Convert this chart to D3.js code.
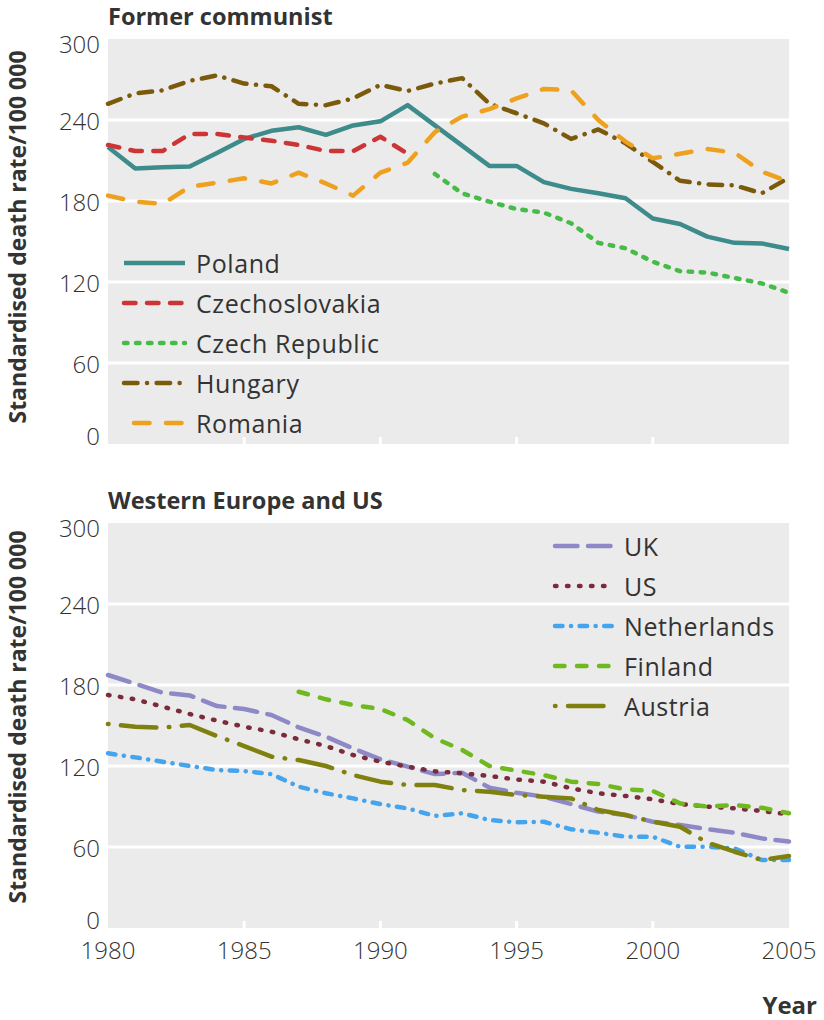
<!DOCTYPE html>
<html><head><meta charset="utf-8">
<script src="https://cdn.jsdelivr.net/npm/d3@7"></script>
<style>body{margin:0;background:#fff}svg{display:block}text{font-family:"Open Sans",sans-serif;fill:#333}</style>
</head><body><svg id="c" width="824" height="1020"></svg>
<script>
const years = d3.range(1980, 2006);
const yTicks = [0, 60, 120, 180, 240, 300];
const xTicks = [1980, 1985, 1990, 1995, 2000, 2005];

const poland = [220,204,205,205.5,215.5,226,232,234.6,229,236,239,251,236,221,206,206,194,189,185.7,182,167,163,153.6,149,148.6,144.5];
const czechoslovakia = [221.5,217,217,229.6,229.6,227,224.7,221.5,217,217,227.6,215];
const czechYears = d3.range(1992, 2006);
const czechRep = [200,185.7,179.5,174,171.4,163.5,149,145,135,128,127,123,119,112];
const hungary = [252,259.7,262,269,273,267,265,252,251,256,266,261.5,267,271,252,245,237.5,226,233,222.7,209,195,192.3,191.6,185.7,197.3];
const romania = [184,179.5,177.8,190.6,193.6,196.8,193,201,193,184,201,208.4,231,242.5,248,256,263,262,240,224,211.6,215,218.5,215.8,201.7,194.3];

const uk = [187.4,181,174.3,172.3,164.4,162.2,157.8,148.6,141.7,133,125,119.5,114,115,104,100.2,97.3,91.8,86.2,83.7,78.7,76.3,73.3,70.6,66.4,64];
const us = [172.6,169.4,164,158.5,153.6,149.1,145.4,139.8,134.8,128.1,123.2,119.5,116,114.6,112.6,110,108.4,103.5,99.8,97.8,95.3,91.8,89.9,88.6,86.7,84.2];
const netherlands = [129.4,126.4,123.2,120,117,116.3,114,104.7,99.8,96,91.8,88.6,83,85,80,78.3,78.7,73.1,70.6,67.6,67.6,60.2,60.2,59,50.4,50.4];
const finlandYears = d3.range(1987, 2006);
const finland = [175,169.4,165.2,162.2,154,140.5,131.9,120,116.5,113.3,108.4,106.7,102.7,101.5,92.3,89.9,91.1,89.1,85];
const austria = [151.1,149.1,148.4,150.4,142.2,134.8,126.9,124.4,120,113.3,108.4,105.9,105.9,102.2,101,98.5,97.3,96,87.4,83.7,78.7,75,63.2,56.5,50.4,53.3];

const W = 4.5;
function da(arr){ // visual pattern -> round-cap dasharray
  return arr.map((v,i)=> i%2===0 ? Math.max(0.1, v-W) : v+W).join(",");
}
const topSeries = [
  {name:"Poland", yrs:years, vals:poland, color:"#3e8b8b", dash:null},
  {name:"Czechoslovakia", yrs:years.slice(0,12), vals:czechoslovakia, color:"#cc3535", dash:da([16,7])},
  {name:"Czech Republic", yrs:czechYears, vals:czechRep, color:"#46bb48", dash:da([8,4])},
  {name:"Hungary", yrs:years, vals:hungary, color:"#7b5a0c", dash:da([18,5,4,5])},
  {name:"Romania", yrs:years, vals:romania, color:"#eea11e", dash:da([20,12])}
];
const botSeries = [
  {name:"UK", yrs:years, vals:uk, color:"#8d89c7", dash:da([27,6])},
  {name:"US", yrs:years, vals:us, color:"#7b2c3c", dash:da([6,6])},
  {name:"Netherlands", yrs:years, vals:netherlands, color:"#45a4ee", dash:da([12,4,4,4])},
  {name:"Finland", yrs:finlandYears, vals:finland, color:"#6fb81e", dash:da([14,8])},
  {name:"Austria", yrs:years, vals:austria, color:"#80800f", dash:da([5,8,40,8])}
];

const svg = d3.select("#c");
const x = d3.scaleLinear().domain([1980, 2005]).range([108, 789]);

function panel(top, bottom, title, series, leg, titleCenter){
  const y = d3.scaleLinear().domain([0, 300]).range([bottom, top]);
  const g = svg.append("g");
  g.append("rect").attr("x", x.range()[0]).attr("y", top).attr("width", x.range()[1]-x.range()[0]).attr("height", bottom-top).attr("fill", "#ebebeb");
  g.selectAll(".grid").data(yTicks.filter(t=>t>0 && t<300)).join("line")
    .attr("x1", x.range()[0]).attr("x2", x.range()[1]).attr("y1", d=>y(d)).attr("y2", d=>y(d))
    .attr("stroke", "#fff").attr("stroke-width", 3);
  g.selectAll(".xt").data(xTicks.slice(1,-1)).join("line")
    .attr("x1", d=>x(d)).attr("x2", d=>x(d)).attr("y1", bottom).attr("y2", bottom-7)
    .attr("stroke", "#fff").attr("stroke-width", 3);
  g.selectAll(".yl").data(yTicks).join("text")
    .attr("x", 100).attr("y", d=>Math.min(bottom-9, Math.max(top+4, y(d))))
    .attr("text-anchor", "end").attr("dominant-baseline", "central")
    .attr("font-size", 24).attr("font-weight", 300).text(d=>d);
  svg.append("text").attr("x", 108).attr("y", top-14).attr("font-size", 23.5).attr("font-weight", 700).text(title);
  svg.append("text").attr("transform", `translate(26,${titleCenter}) rotate(-90)`)
    .attr("text-anchor", "middle").attr("font-size", 23).attr("font-weight", 700)
    .text("Standardised death rate/100 000");
  const line = d3.line().x(d=>x(d[0])).y(d=>y(d[1]));
  g.selectAll(".s").data(series).join("path")
    .attr("d", s=>line(s.yrs.map((yr,i)=>[yr, s.vals[i]])))
    .attr("fill", "none").attr("stroke", s=>s.color).attr("stroke-width", W)
    .attr("stroke-linecap", s=>s.dash ? "round" : "butt").attr("stroke-linejoin", "round")
    .attr("stroke-dasharray", s=>s.dash);
  const lg = g.selectAll(".lg").data(series).join("g")
    .attr("transform", (s,i)=>`translate(${leg.x},${leg.y + i*leg.dy})`);
  lg.append("line").attr("x1", (s,i)=>leg.offs[i]).attr("x2", leg.len).attr("y1", 0).attr("y2", 0)
    .attr("stroke", s=>s.color).attr("stroke-width", W)
    .attr("stroke-linecap", s=>s.dash ? "round" : "butt").attr("stroke-dasharray", s=>s.dash);
  lg.append("text").attr("x", leg.len + 11).attr("y", 0).attr("dominant-baseline", "central")
    .attr("font-size", 25).attr("letter-spacing", 0.6).attr("font-weight", 400).text(s=>s.name);
  return y;
}

panel(39, 444, "Former communist", topSeries, {x:124, y:263, dy:40, len:61, offs:[0,0,0,0,10]}, 237);
panel(523, 928, "Western Europe and US", botSeries, {x:555, y:546, dy:40, len:58, offs:[0,0,0,0,0]}, 717);

svg.selectAll(".xl").data(xTicks).join("text")
  .attr("x", d=>x(d)).attr("y", 949).attr("text-anchor", "middle").attr("dominant-baseline", "central")
  .attr("font-size", 24).attr("font-weight", 300).text(d=>d);
svg.append("text").attr("x", 817).attr("y", 1014).attr("text-anchor", "end")
  .attr("font-size", 24).attr("font-weight", 700).text("Year");
</script></body></html>
